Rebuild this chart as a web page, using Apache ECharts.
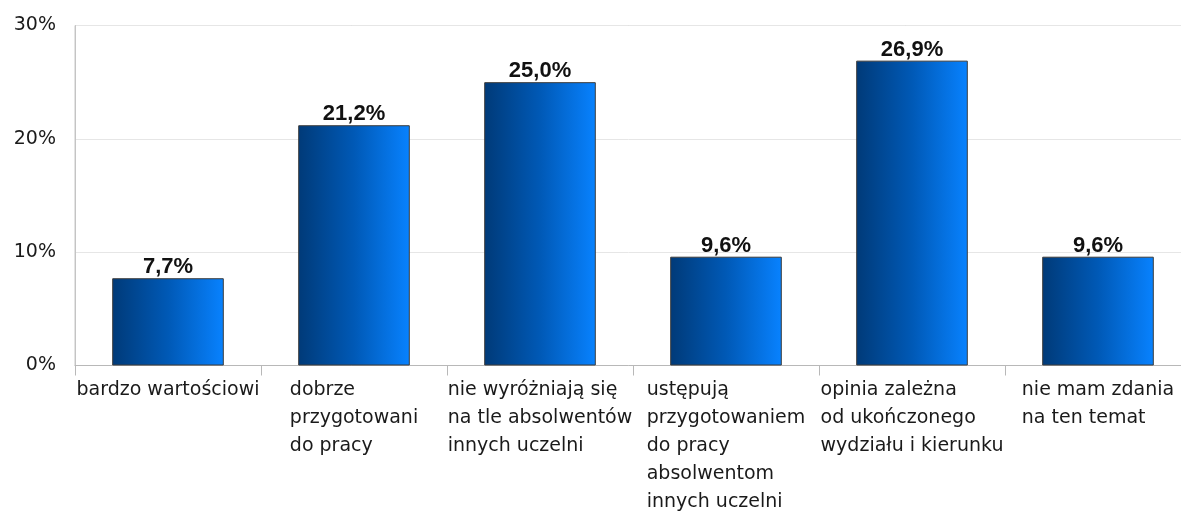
<!DOCTYPE html>
<html>
<head>
<meta charset="utf-8">
<script src="https://cdn.jsdelivr.net/npm/echarts@6/dist/echarts.min.js"></script>
<style>
  html, body { margin: 0; padding: 0; background: #ffffff; }
  #chart { width: 1181px; height: 513px; }
</style>
</head>
<body>
<div id="chart"></div>
<script>
// Ocena absolwentów – odsetek odpowiedzi
const categories = [
  'bardzo wartościowi',
  'dobrze\nprzygotowani\ndo pracy',
  'nie wyróżniają się\nna tle absolwentów\ninnych uczelni',
  'ustępują\nprzygotowaniem\ndo pracy\nabsolwentom\ninnych uczelni',
  'opinia zależna\nod ukończonego\nwydziału i kierunku',
  'nie mam zdania\nna ten temat'
];
const values = [7.7, 21.2, 25.0, 9.6, 26.9, 9.6];
const yTicks = { min: 0, max: 30, interval: 10 };

const chart = echarts.init(document.getElementById('chart'), null, { renderer: 'canvas' });

const barGradient = new echarts.graphic.LinearGradient(0, 0, 1, 0, [
  { offset: 0, color: '#003a78' },
  { offset: 0.5, color: '#0059b6' },
  { offset: 1, color: '#0882ff' }
]);

chart.setOption({
  animation: false,
  backgroundColor: '#ffffff',
  grid: {
    left: 75,
    right: -10,
    top: 25.5,
    bottom: 147.5,
    containLabel: false,
    outerBoundsMode: 'none',
    show: true,
    borderColor: '#c8c8c8',
    borderWidth: 1,
    backgroundColor: 'transparent'
  },
  xAxis: {
    type: 'category',
    data: categories,
    axisLine: { lineStyle: { color: '#b8b8b8', width: 1 } },
    axisTick: { show: true, length: 10, lineStyle: { color: '#b8b8b8' } },
    axisLabel: {
      interval: 0,
      margin: 11,
      align: 'center',
      formatter: v => '{t|' + v + '}',
      rich: {
        t: {
          align: 'left',
          fontFamily: 'DejaVu Sans',
          fontSize: 19,
          lineHeight: 28,
          color: '#1a1a1a'
        }
      }
    }
  },
  yAxis: {
    type: 'value',
    min: yTicks.min,
    max: yTicks.max,
    interval: yTicks.interval,
    axisLine: { show: true, lineStyle: { color: '#c4c4c4' } },
    axisTick: { show: false },
    splitLine: { lineStyle: { color: '#e6e6e6' } },
    axisLabel: {
      formatter: '{value}%',
      margin: 19,
      fontFamily: 'DejaVu Sans',
      fontSize: 19,
      color: '#1a1a1a'
    }
  },
  series: [{
    type: 'bar',
    data: values,
    barWidth: '60%',
    itemStyle: {
      color: barGradient,
      borderColor: '#3c3c3c',
      borderWidth: 1
    },
    label: {
      show: true,
      position: 'top',
      distance: 0,
      fontFamily: 'Liberation Sans',
      fontWeight: 'bold',
      fontSize: 22,
      color: '#111111',
      formatter: p => p.value.toFixed(1).replace('.', ',') + '%'
    }
  }]
});
</script>
</body>
</html>
